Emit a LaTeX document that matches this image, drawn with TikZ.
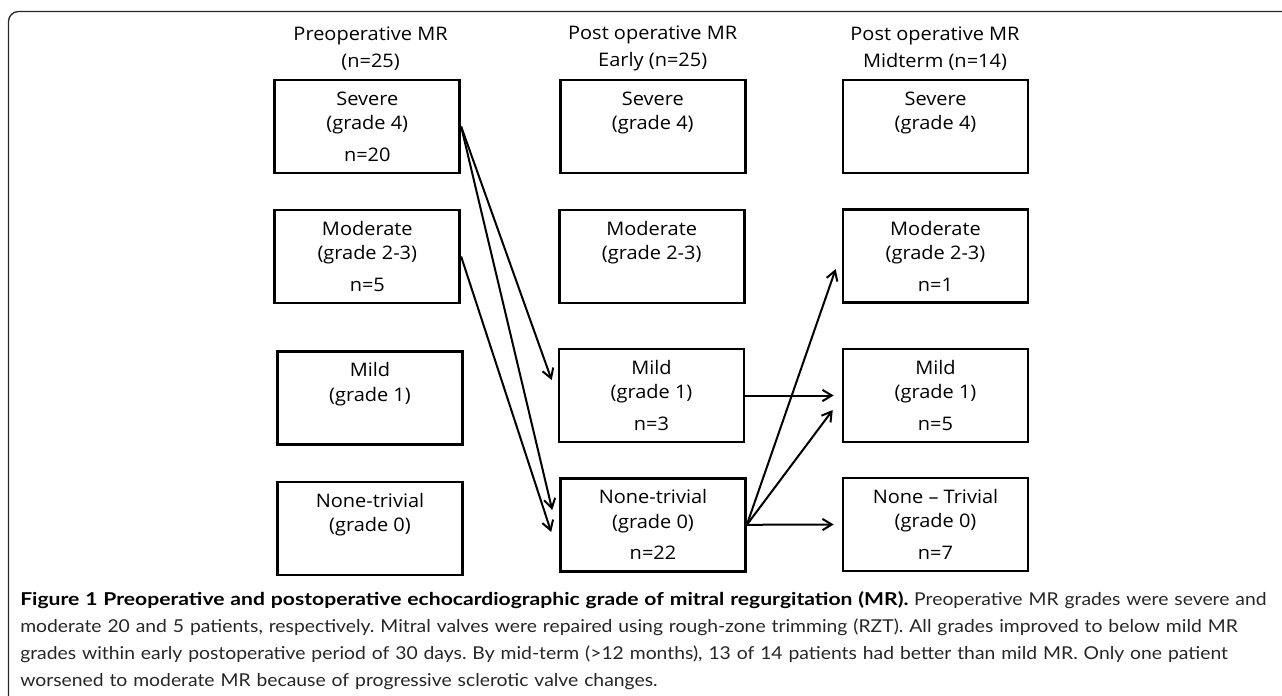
\documentclass[tikz,border=0pt]{standalone}
\usepackage{fontspec}
\newfontfamily\boxfont[FakeStretch=1.07]{Open Sans}
\newfontfamily\capfont[FakeStretch=1.09,BoldFeatures={FakeStretch=1.19}]{Lato}
\usetikzlibrary{arrows.meta}

\begin{document}
\begin{tikzpicture}[x=0.75pt,y=-0.75pt,
    grade/.style={draw, line width=2pt, minimum width=138.75pt, minimum height=69.75pt,
      inner sep=0pt, align=center, font=\boxfont\fontsize{14}{18.3}\selectfont},
    head/.style={align=center, font=\boxfont\fontsize{14}{20.5}\selectfont},
    flow/.style={line width=1.5pt, -{Straight Barb[length=7pt,width=8.5pt]}}]
  \useasboundingbox (0,0) rectangle (1282,696);
  % Frame round the figure
  \draw[gray!30!black, line width=1pt, rounded corners=7.5pt] (1282,11.5) -- (8.5,11.5) -- (8.5,696);

  % Column titles
  \node[head] (hpre) at (370.6,48.7) {Preoperative MR\\(n=25)};
  \node[head] (hearly) at (652.7,48.7) {Post operative MR\\Early (n=25)};
  \node[head] (hmid) at (935,48.7) {Post operative MR\\Midterm (n=14)};

  % Preoperative grades
  \node[grade] (pre4) at (367.3,126.5) {Severe\\(grade 4)\\[5.4pt]n=20};
  \node[grade] (pre23) at (367.3,256.5) {Moderate\\(grade 2-3)\\[5.4pt]n=5};
  \node[grade] (pre1) at (370,397.7) {Mild\\(grade 1)\\[5.4pt]\phantom{n=0}};
  \node[grade] (pre0) at (370,528.5) {None-trivial\\(grade 0)\\[5.4pt]\phantom{n=0}};

  % Early postoperative grades
  \node[grade] (early4) at (652.8,126.5) {Severe\\(grade 4)\\[5.4pt]\phantom{n=0}};
  \node[grade] (early23) at (651.7,256.5) {Moderate\\(grade 2-3)\\[5.4pt]\phantom{n=0}};
  \node[grade] (early1) at (651.5,395.5) {Mild\\(grade 1)\\[5.4pt]n=3};
  \node[grade] (early0) at (653,524.8) {None-trivial\\(grade 0)\\[5.4pt]n=22};

  % Midterm postoperative grades
  \node[grade] (mid4) at (935.5,126.5) {Severe\\(grade 4)\\[5.4pt]\phantom{n=0}};
  \node[grade] (mid23) at (935.5,256) {Moderate\\(grade 2-3)\\[5.4pt]n=1};
  \node[grade] (mid1) at (935.5,395.5) {Mild\\(grade 1)\\[5.4pt]n=5};
  \node[grade] (mid0) at (935.5,524.5) {None – Trivial\\(grade 0)\\[5.4pt]n=7};

  % Changes of grade
  \draw[flow] (pre4.east) -- ([xshift=-4.5pt,yshift=11.6pt]early1.west);
  \draw[flow] (pre4.east) -- ([xshift=-5.2pt,yshift=11.1pt]early0.west);
  \draw[flow] (pre23.east) -- ([xshift=-6pt,yshift=-5.4pt]early0.west);
  \draw[flow] (early1.east) -- ([xshift=-6pt]mid1.west);
  \draw[flow] (early0.east) -- ([xshift=-4.5pt,yshift=-9.8pt]mid23.west);
  \draw[flow] (early0.east) -- ([xshift=-6.7pt,yshift=-10.9pt]mid1.west);
  \draw[flow] (early0.east) -- ([xshift=-6pt]mid0.west);

  % Caption
  \node[anchor=north west, inner sep=0pt, text width=931.5pt, align=left,
    font=\capfont\fontsize{13.3}{20.25}\selectfont\frenchspacing, text=black!85] (caption) at (20,591.5)
    {\makebox[931.5pt][s]{{\bfseries\color{black}Figure 1 Preoperative and postoperative echocardiographic grade of mitral regurgitation (MR).} Preoperative MR grades were severe and}\\
    \makebox[931.5pt][s]{moderate 20 and 5 patients, respectively. Mitral valves were repaired using rough-zone trimming (RZT). All grades improved to below mild MR}\\
    \makebox[931.5pt][s]{grades within early postoperative period of 30 days. By mid-term (>12 months), 13 of 14 patients had better than mild MR. Only one patient}\\
    worsened to moderate MR because of progressive sclerotic valve changes.};
\end{tikzpicture}
\end{document}
